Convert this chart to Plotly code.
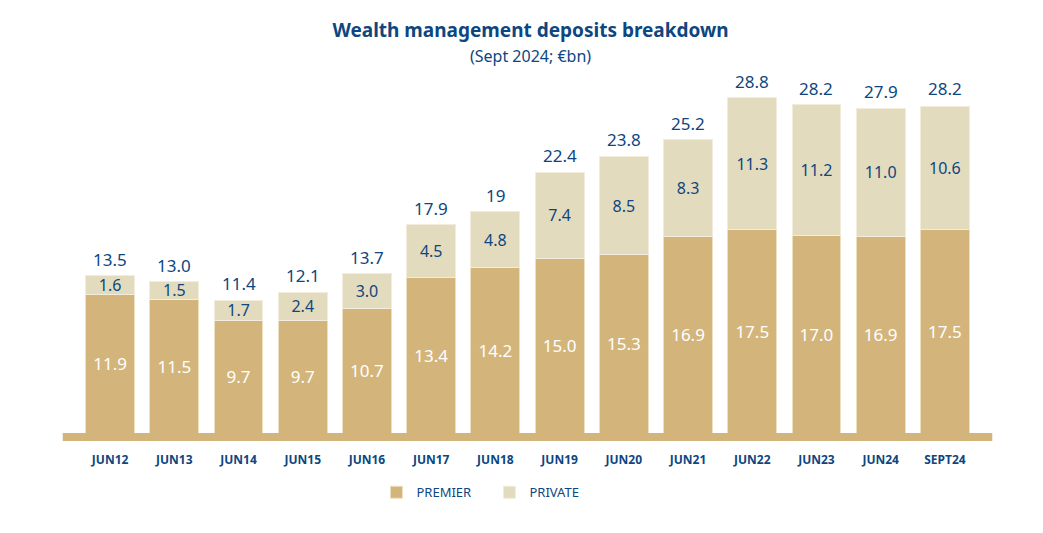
import plotly.graph_objects as go

categories = ["JUN12", "JUN13", "JUN14", "JUN15", "JUN16", "JUN17", "JUN18",
              "JUN19", "JUN20", "JUN21", "JUN22", "JUN23", "JUN24", "SEPT24"]
premier = [11.9, 11.5, 9.7, 9.7, 10.7, 13.4, 14.2, 15.0, 15.3, 16.9, 17.5, 17.0, 16.9, 17.5]
private = [1.6, 1.5, 1.7, 2.4, 3.0, 4.5, 4.8, 7.4, 8.5, 8.3, 11.3, 11.2, 11.0, 10.6]
totals = [13.5, 13.0, 11.4, 12.1, 13.7, 17.9, 19, 22.4, 23.8, 25.2, 28.8, 28.2, 27.9, 28.2]
total_labels = ["13.5", "13.0", "11.4", "12.1", "13.7", "17.9", "19", "22.4",
                "23.8", "25.2", "28.8", "28.2", "27.9", "28.2"]

BLUE = "#0d4680"
PREMIER_C = "#d3b57b"
PRIVATE_C = "#e3dbbd"
FONT = "Noto Sans"

fig = go.Figure()
fig.add_trace(go.Bar(
    x=categories, y=premier, name="PREMIER",
    marker=dict(color=PREMIER_C, line=dict(color="#ecdfc2", width=1)),
    text=[f"{v:.1f}" for v in premier], textposition="inside",
    insidetextanchor="middle", constraintext="none", textangle=0,
    textfont=dict(color="white", size=17, family=FONT),
    hoverinfo="skip",
))
fig.add_trace(go.Bar(
    x=categories, y=private, name="PRIVATE",
    marker=dict(color=PRIVATE_C, line=dict(color="#f1ecdc", width=1)),
    text=[f"{v:.1f}" for v in private], textposition="inside",
    insidetextanchor="middle", constraintext="none", textangle=0,
    textfont=dict(color=BLUE, size=16, family=FONT),
    hoverinfo="skip",
))
for c, t, lab in zip(categories, totals, total_labels):
    fig.add_annotation(
        x=c, y=t, text=lab, showarrow=False, yanchor="bottom", yshift=3,
        font=dict(color=BLUE, size=17, family=FONT),
    )

fig.update_layout(
    width=1043, height=533,
    barmode="stack", bargap=0.24,
    plot_bgcolor="white", paper_bgcolor="white",
    margin=dict(l=70, r=74, t=62, b=108),
    font=dict(family=FONT, color=BLUE),
    title=dict(
        text="<b>Wealth management deposits breakdown</b><br><span style='font-size:16px'>(Sept 2024; €bn)</span>",
        x=0.501, xanchor="center", y=0.945, yanchor="top",
        font=dict(size=19, color=BLUE, family=FONT),
    ),
    xaxis=dict(
        range=[-0.5, 13.5],
        showgrid=False, showline=False, zeroline=False,
        ticks="outside", ticklen=16, tickcolor="rgba(0,0,0,0)",
        tickfont=dict(size=12, color=BLUE, family=FONT, weight="bold"),
    ),
    yaxis=dict(range=[0, 31.2], visible=False, showgrid=False, zeroline=False),
    legend=dict(
        orientation="h", x=0.332, xanchor="left", y=-0.122, yanchor="top",
        traceorder="normal",
        font=dict(size=13, color=BLUE, family=FONT),
        itemwidth=30, entrywidth=68, entrywidthmode="pixels",
    ),
    shapes=[dict(
        type="rect", xref="paper", yref="paper",
        x0=-0.017, x1=1.017, y0=0, y1=-0.022,
        fillcolor=PREMIER_C, line=dict(width=0), layer="above",
    )],
)

fig.write_html("out.html")
